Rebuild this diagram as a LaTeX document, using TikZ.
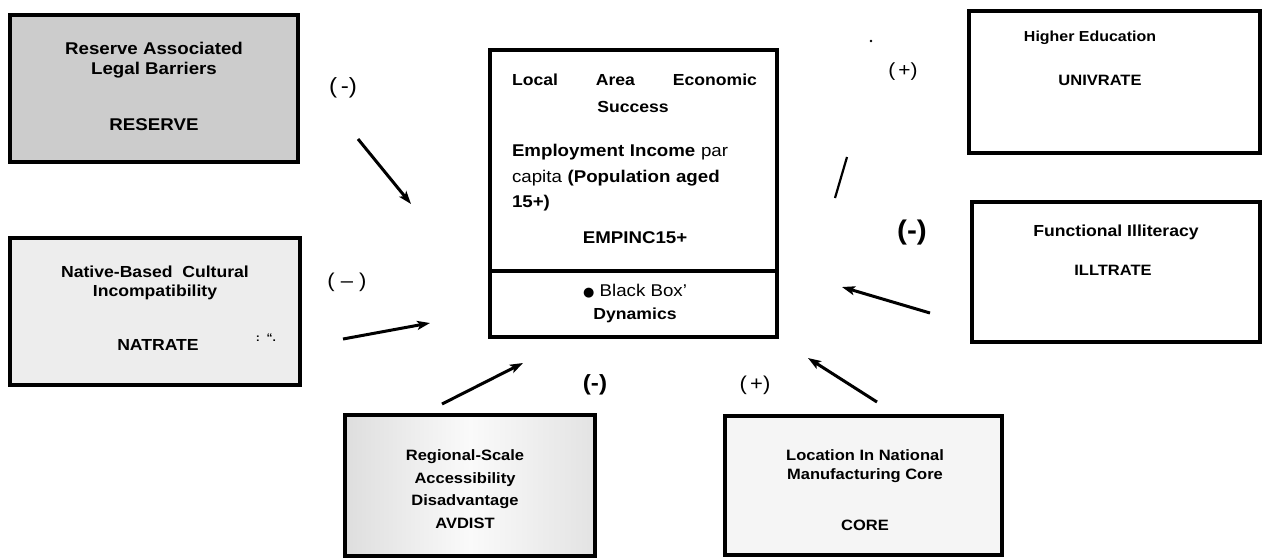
\documentclass[tikz,border=0pt]{standalone}
\usepackage{fontspec}
\setmainfont{Liberation Sans}[FakeStretch=1.1]
\newfontfamily\symfont{DejaVu Sans}
\usetikzlibrary{arrows.meta}
\newcommand\setfs[2]{\fontsize{#1}{#2}\selectfont}
\begin{document}
\begin{tikzpicture}[x=1pt,y=-1pt,
  box/.style={draw, line width=3.2pt, inner sep=0pt},
  txt/.style={inner sep=0pt, align=center},
  lbl/.style={inner sep=0pt},
  arr/.style={line width=3pt, -{Stealth[length=13pt,width=9pt,inset=3pt]}}]
\useasboundingbox (0,0) rectangle (1265,558);
\fill[white] (0,0) rectangle (1265,558);

% boxes
\node[box, minimum width=288pt, minimum height=147pt, fill=black!20] (reserve) at (154,88.5) {};
\node[box, minimum width=290pt, minimum height=147pt, fill=black!7] (native) at (155,311.5) {};
\node[box, minimum width=287pt, minimum height=287pt, fill=white] (main) at (633.5,193.5) {};
\node[box, minimum width=291pt, minimum height=142pt, fill=white] (higher) at (1114.5,82) {};
\node[box, minimum width=288pt, minimum height=140pt, fill=white] (illit) at (1116,272) {};
\node[box, minimum width=250pt, minimum height=141pt, left color=black!13, right color=black!11, middle color=black!2] (avdist) at (470,485.5) {};
\node[box, minimum width=277pt, minimum height=139pt, fill=black!4] (core) at (863.5,485.5) {};
\draw[line width=3.2pt] (main.west |- 0,271) -- (main.east |- 0,271);

% box texts
\node[txt, font=\setfs{17}{20}\bfseries] (reserveT) at (154,60) {Reserve Associated\\Legal Barriers};
\node[txt, font=\setfs{17}{20}\bfseries] (reserveV) at (154,125) {RESERVE};

\node[txt, font=\setfs{16}{19}\bfseries] (nativeT) at (155,283) {Native-Based\ \ Cultural\\Incompatibility};
\node[txt, font=\setfs{16}{19}\bfseries] (nativeV) at (158,345) {NATRATE};
\node[lbl, font=\setfs{11}{12}\bfseries] (nativeX) at (266,338) {:\ \ “.};

\node[txt, font=\setfs{16}{18}\bfseries] (mainH) at (634.5,80) {\makebox[245pt][s]{Local Area Economic}};
\node[txt, font=\setfs{16}{18}\bfseries] (mainS) at (633,107) {Success};
\node[inner sep=0pt, text width=245pt, align=left, font=\setfs{17}{25.5}] (mainT) at (634.5,178)
  {\makebox[245pt][s]{\bfseries Employment Income \mdseries par}\\
   \makebox[245pt][s]{capita \bfseries (Population aged}\\
   \bfseries 15+)};
\node[txt, font=\setfs{17}{20}\bfseries] (mainV) at (635,238) {EMPINC15+};
\node[txt, font=\setfs{17}{23}] (mainB) at (635,303) {{\symfont\setfs{13}{23}●} Black Box’\\\bfseries\setfs{16}{23}Dynamics};

\node[txt, font=\setfs{14.5}{18}\bfseries] (higherT) at (1090,38) {Higher Education};
\node[txt, font=\setfs{15}{18}\bfseries] (higherV) at (1100,80) {UNIVRATE};

\node[txt, font=\setfs{16}{19}\bfseries] (illitT) at (1116,232) {Functional Illiteracy};
\node[txt, font=\setfs{15}{18}\bfseries] (illitV) at (1113,270) {ILLTRATE};

\node[txt, font=\setfs{15}{22.7}\bfseries] (avdistT) at (465,489) {Regional-Scale\\Accessibility\\Disadvantage\\AVDIST};

\node[txt, font=\setfs{15}{19}\bfseries] (coreT) at (865,466) {Location In National\\Manufacturing Core};
\node[txt, font=\setfs{15}{18}\bfseries] (coreV) at (865,525) {CORE};

% sign labels
\node[lbl, font=\setfs{22}{24}] (l1) at (343,88) {(\,-)};
\node[lbl, font=\setfs{20}{22}] (l2) at (347,282) {( – )};
\node[lbl, font=\setfs{22}{24}\bfseries] (l3) at (595,385) {(-)};
\node[lbl, font=\setfs{20}{22}] (l4) at (755,385) {(\,+)};
\node[lbl, font=\setfs{27}{30}\bfseries] (l5) at (912,233) {(-)};
\node[lbl, font=\setfs{19}{21}] (l6) at (903,72) {(\,+)};
\node[circle, fill, inner sep=0pt, minimum size=2.6pt] (dot) at (871,41) {};

% arrows
\coordinate (a1s) at (358,139); \coordinate (a1e) at (411,204);
\coordinate (a2s) at (343,339); \coordinate (a2e) at (430,323);
\coordinate (a3s) at (442,404); \coordinate (a3e) at (523,363);
\coordinate (a4s) at (877,402); \coordinate (a4e) at (808,358);
\coordinate (a5s) at (930,313); \coordinate (a5e) at (842,287);
\coordinate (s1) at (835,198); \coordinate (s2) at (847,157);
\draw[arr] (a1s) -- (a1e);
\draw[arr] (a2s) -- (a2e);
\draw[arr] (a3s) -- (a3e);
\draw[arr] (a4s) -- (a4e);
\draw[arr] (a5s) -- (a5e);
\draw[line width=2.2pt] (s1) -- (s2);
\end{tikzpicture}
\end{document}
